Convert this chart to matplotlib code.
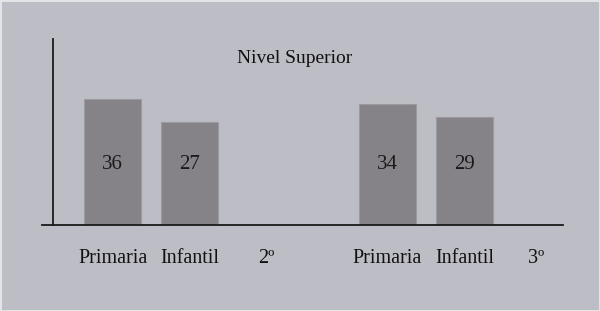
import matplotlib.pyplot as plt

# data
categories = ['Primaria', 'Infantil', '2º', 'Primaria', 'Infantil', '3º']
cat_pos = [0, 1, 2, 3.57, 4.57, 5.5]
bar_pos = [0, 1, 3.57, 4.57]
values = [36, 27, 34, 29]
title = 'Nivel Superior'

bg = '#bdbdc5'
bar_color = '#858388'
y0 = -14.5  # axis baseline of the original chart

fig = plt.figure(figsize=(6, 3.11), dpi=100)
fig.patch.set_facecolor(bg)
fig.patch.set_edgecolor('#e4e4e8')
fig.patch.set_linewidth(2)
ax = fig.add_axes([0.07, 0.2756, 0.868, 0.599])
ax.set_facecolor(bg)

heights = [v - y0 for v in values]
ax.bar(bar_pos, heights, bottom=y0, width=0.74, color=bar_color,
       edgecolor='#9c9aa0', linewidth=0.8)

for x, v in zip(bar_pos, values):
    ax.text(x, 10, str(v), ha='center', va='center',
            family='Liberation Serif', fontsize=15, color='#1a1a1a')

ax.text(0.486, 0.898, title, transform=ax.transAxes, ha='center', va='center',
        family='Liberation Serif', fontsize=14, color='#111111')

ax.set_xlim(-0.92, 5.85)
ax.set_ylim(y0, 60)
ax.set_xticks(cat_pos)
ax.set_xticklabels(categories, family='Liberation Serif', fontsize=14.5, color='#111111')
ax.tick_params(axis='x', length=0, pad=17)
ax.set_yticks([])

for s in ['top', 'right']:
    ax.spines[s].set_visible(False)
ax.spines['left'].set_position(('data', -0.774))
ax.spines['left'].set_color('#1a1a1a')
ax.spines['left'].set_linewidth(1.3)
ax.spines['bottom'].set_color('#1a1a1a')
ax.spines['bottom'].set_linewidth(1.3)
ax.set_axisbelow(False)

fig.savefig('out.png', dpi=100, facecolor=bg, edgecolor=fig.patch.get_edgecolor())
